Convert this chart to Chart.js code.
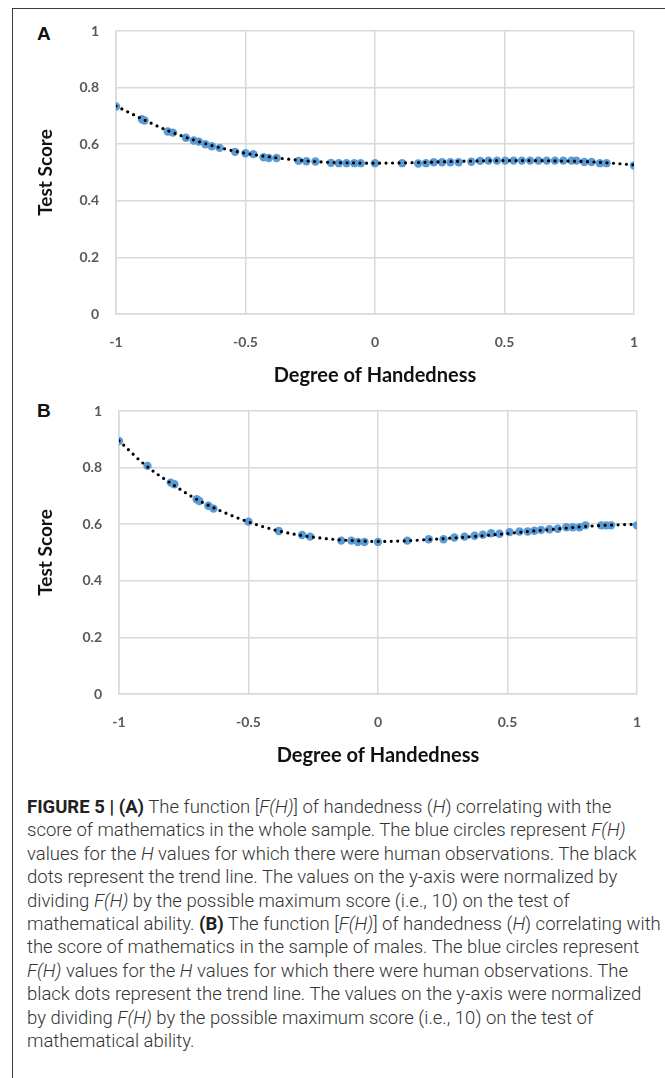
<!DOCTYPE html>
<html>
<head>
<meta charset="utf-8">
<script src="https://cdn.jsdelivr.net/npm/chart.js@4.4.0/dist/chart.umd.min.js"></script>
<style>
  body { margin: 0; background: #fff; width: 665px; height: 1078px; overflow: hidden; position: relative; }
  #frame { position: absolute; left: 12px; top: 8px; width: 660px; height: 1080px; border-top: 1.5px solid #3c3c3c; border-left: 1.5px solid #3c3c3c; }
  .letter { position: absolute; font: bold 19px "Liberation Sans", Arial, sans-serif; color: #111; }
  .wrap { position: absolute; left: 30px; width: 630px; height: 384px; }
  #caption { position: absolute; left: 27px; top: 796px; font: 300 18.5px Roboto, "Liberation Sans", sans-serif; color: #333; line-height: 23.4px; white-space: nowrap; }
  #caption b { font-weight: 700; color: #222; }
</style>
</head>
<body>
<div id="frame"></div>
<div class="letter" style="left:37px; top:23px;">A</div>
<div class="letter" style="left:37px; top:400px;">B</div>
<div class="wrap" style="top:16px;"><canvas id="chartA"></canvas></div>
<div class="wrap" style="top:396px;"><canvas id="chartB"></canvas></div>
<div id="caption">
<b>FIGURE 5 | (A)</b> The function [<i>F(H)</i>] of handedness (<i>H</i>) correlating with the<br>
score of mathematics in the whole sample. The blue circles represent <i>F(H)</i><br>
values for the <i>H</i> values for which there were human observations. The black<br>
dots represent the trend line. The values on the y-axis were normalized by<br>
dividing <i>F(H)</i> by the possible maximum score (i.e., 10) on the test of<br>
mathematical ability. <b>(B)</b> The function [<i>F(H)</i>] of handedness (<i>H</i>) correlating with<br>
the score of mathematics in the sample of males. The blue circles represent<br>
<i>F(H)</i> values for the <i>H</i> values for which there were human observations. The<br>
black dots represent the trend line. The values on the y-axis were normalized<br>
by dividing <i>F(H)</i> by the possible maximum score (i.e., 10) on the test of<br>
mathematical ability.
</div>
<script>
// tick values
const xTicks = [-1, -0.5, 0, 0.5, 1];
const yTicks = [0, 0.2, 0.4, 0.6, 0.8, 1];

// panel A: whole sample
const hA = [-1, -0.9, -0.89, -0.8, -0.78, -0.73, -0.70, -0.68, -0.655, -0.63,
  -0.60, -0.54, -0.50, -0.47, -0.43, -0.41, -0.38, -0.295, -0.265, -0.23,
  -0.17, -0.14, -0.11, -0.08, -0.055, 0, 0.105, 0.167, 0.197, 0.227,
  0.259, 0.291, 0.323, 0.372, 0.406, 0.438, 0.471, 0.503, 0.535, 0.567,
  0.599, 0.631, 0.663, 0.695, 0.727, 0.759, 0.778, 0.808, 0.836, 0.868,
  0.894, 1.0];
const scoreA = [0.733, 0.688, 0.684, 0.645, 0.641, 0.623, 0.613, 0.609, 0.600, 0.593,
  0.587, 0.573, 0.568, 0.565, 0.554, 0.551, 0.551, 0.541, 0.540, 0.539,
  0.534, 0.533, 0.533, 0.533, 0.533, 0.533, 0.533, 0.532, 0.533, 0.536,
  0.536, 0.536, 0.536, 0.538, 0.541, 0.542, 0.542, 0.542, 0.542, 0.542,
  0.542, 0.542, 0.542, 0.542, 0.542, 0.542, 0.542, 0.537, 0.537, 0.533,
  0.533, 0.525];

// panel B: males
const hB = [-1, -0.89, -0.80, -0.786, -0.70, -0.69, -0.655, -0.635, -0.5, -0.383,
  -0.293, -0.262, -0.142, -0.103, -0.078, -0.052, 0, 0.113, 0.196, 0.253,
  0.295, 0.334, 0.373, 0.405, 0.437, 0.469, 0.508, 0.546, 0.578, 0.604,
  0.630, 0.662, 0.694, 0.727, 0.752, 0.778, 0.801, 0.862, 0.881, 0.900,
  1.0];
const scoreB = [0.894, 0.806, 0.747, 0.741, 0.688, 0.682, 0.665, 0.655, 0.609, 0.576,
  0.562, 0.556, 0.542, 0.542, 0.537, 0.537, 0.537, 0.542, 0.547, 0.547,
  0.553, 0.556, 0.559, 0.563, 0.568, 0.566, 0.572, 0.574, 0.574, 0.577,
  0.580, 0.582, 0.584, 0.589, 0.589, 0.589, 0.596, 0.596, 0.596, 0.596,
  0.596];

// trend lines read at steps of 0.1
const trendH = [-1, -0.9, -0.8, -0.7, -0.6, -0.5, -0.4, -0.3, -0.2, -0.1, 0,
  0.1, 0.2, 0.3, 0.4, 0.5, 0.6, 0.7, 0.8, 0.9, 1];
const trendA = [0.735, 0.690, 0.648, 0.615, 0.588, 0.568, 0.554, 0.544, 0.537, 0.534, 0.533,
  0.534, 0.536, 0.539, 0.541, 0.542, 0.542, 0.541, 0.539, 0.534, 0.527];
const trendB = [0.895, 0.810, 0.745, 0.688, 0.644, 0.608, 0.580, 0.561, 0.549, 0.542, 0.539,
  0.541, 0.546, 0.552, 0.559, 0.567, 0.576, 0.584, 0.592, 0.597, 0.600];

const gridCol = "#d9d9d9";
const tickCol = "#595959";

function pts(xs, ys) {
  return xs.map((x, i) => ({ x: x, y: ys[i] }));
}

function makeChart(id, xs, ys, tx, ty, yWidth, padRight) {
  const ctx = document.getElementById(id).getContext("2d");
  return new Chart(ctx, {
    type: "scatter",
    data: {
      datasets: [
        {
          label: "trend",
          data: pts(tx, ty),
          showLine: true,
          pointRadius: 0,
          borderColor: "#000",
          borderWidth: 3.2,
          borderDash: [0, 6.5],
          borderCapStyle: "round",
          cubicInterpolationMode: "monotone",
          order: 0
        },
        {
          label: "F(H)",
          data: pts(xs, ys),
          pointRadius: 4.2,
          pointBackgroundColor: "#5b9bd5",
          pointBorderWidth: 0,
          order: 1
        }
      ]
    },
    options: {
      responsive: true,
      maintainAspectRatio: false,
      animation: false,
      layout: { padding: { top: 15, right: padRight, left: 0, bottom: 0 } },
      plugins: { legend: { display: false }, tooltip: { enabled: false } },
      scales: {
        x: {
          type: "linear",
          min: -1, max: 1,
          afterBuildTicks: s => { s.ticks = xTicks.map(v => ({ value: v })); },
          afterFit: s => { s.height = 86; s.paddingLeft = 0; s.paddingRight = 0; },
          grid: { color: gridCol, lineWidth: 1.5, drawTicks: false },
          border: { color: gridCol, width: 1.5 },
          ticks: { color: tickCol, padding: 20, callback: v => String(v),
                   font: { family: "Lato", weight: "bold", size: 14 } },
          title: { display: true, text: "Degree of Handedness", color: "#111", padding: { top: 0, bottom: 12 },
                   font: { family: "Lato", weight: "bold", size: 20 } }
        },
        y: {
          min: 0, max: 1,
          afterBuildTicks: s => { s.ticks = yTicks.map(v => ({ value: v })); },
          afterFit: s => { s.width = yWidth; s.paddingTop = 0; s.paddingBottom = 0; },
          grid: { color: gridCol, lineWidth: 1.5, drawTicks: false },
          border: { color: gridCol, width: 1.5 },
          ticks: { color: tickCol, padding: 17, callback: v => String(v),
                   font: { family: "Lato", weight: "bold", size: 14 } },
          title: { display: true, text: "Test Score", color: "#111", padding: { top: 4, bottom: 0 },
                   font: { family: "Lato", weight: "bold", size: 19 } }
        }
      }
    }
  });
}

makeChart("chartA", hA, scoreA, trendH, trendA, 86, 26);
makeChart("chartB", hB, scoreB, trendH, trendB, 89, 23);
</script>
</body>
</html>
